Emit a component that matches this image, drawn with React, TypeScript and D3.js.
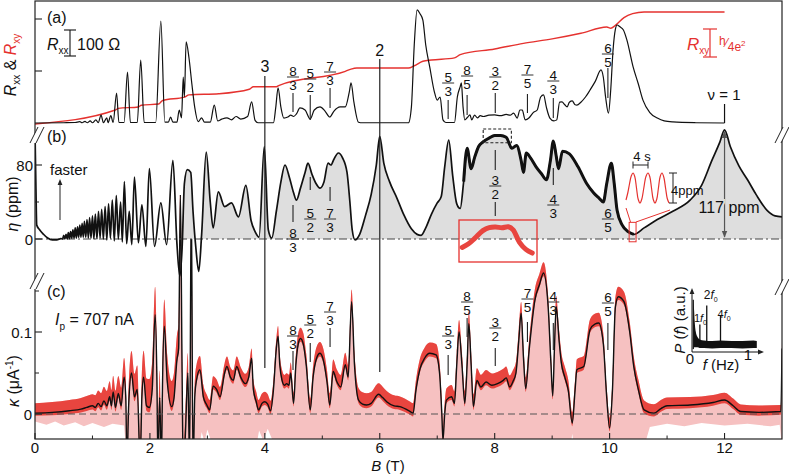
import React from "react";
import * as d3 from "d3";

type P = [number, number];

// ---------- Panel (a): Rxx (ohm) and Rxy (h/e^2) vs B (T) ----------
const rxxData: P[] = [
  [0, 0], [0.5, 1], [0.7, 2], [0.78, 5], [0.82, 1], [0.87, 6], [0.91, 1], [0.96, 8], [1.0, 1], [1.06, 12], [1.1, 1],
  [1.15, 30], [1.19, 1], [1.25, 20], [1.27, 1], [1.32, 28], [1.36, 2], [1.42, 115], [1.46, 2], [1.55, 2], [1.61, 196],
  [1.66, 2], [1.78, 2], [1.84, 242], [1.9, 2], [2.1, 2], [2.19, 392], [2.26, 3], [2.32, 3], [2.36, 23], [2.4, 3],
  [2.47, 3], [2.51, 50], [2.55, 20], [2.58, 177], [2.6, 100], [2.63, 312], [2.68, 250], [2.73, 150], [2.78, 60],
  [2.84, 5], [2.9, 20], [2.95, 3], [3.05, 3], [3.12, 69], [3.18, 8], [3.25, 15], [3.34, 20], [3.42, 12], [3.5, 25],
  [3.58, 15], [3.7, 25], [3.77, 81], [3.83, 10], [3.88, 1], [4.15, 1], [4.19, 60], [4.23, 135], [4.28, 60], [4.33, 19],
  [4.4, 23], [4.45, 30], [4.5, 25], [4.55, 35], [4.61, 58], [4.7, 50], [4.79, 15], [4.86, 50], [4.96, 62], [5.05, 45],
  [5.13, 23], [5.2, 45], [5.31, 62], [5.4, 62], [5.47, 120], [5.5, 154], [5.55, 80], [5.63, 3], [5.7, 1], [6.5, 1],
  [6.55, 60], [6.6, 300], [6.65, 435], [6.7, 420], [6.75, 396], [6.8, 300], [6.87, 215], [6.95, 120], [7.0, 88],
  [7.05, 100], [7.1, 12], [7.15, 2], [7.3, 2], [7.35, 100], [7.4, 140], [7.42, 154], [7.45, 60], [7.48, 12], [7.52, 20],
  [7.57, 31], [7.6, 12], [7.65, 30], [7.7, 20], [7.75, 28], [7.8, 25], [7.9, 30], [8.0, 31], [8.1, 28], [8.2, 33],
  [8.27, 30], [8.33, 38], [8.39, 19], [8.44, 50], [8.48, 50], [8.53, 12], [8.6, 20], [8.67, 40], [8.74, 50], [8.8, 100],
  [8.85, 108], [8.9, 60], [8.96, 19], [9.03, 8], [9.08, 12], [9.13, 80], [9.17, 81], [9.22, 70], [9.26, 62], [9.3, 80],
  [9.35, 85], [9.4, 70], [9.43, 69], [9.5, 80], [9.58, 100], [9.66, 127], [9.75, 160], [9.85, 204], [9.89, 177],
  [9.93, 100], [9.98, 38], [10.02, 130], [10.06, 281], [10.1, 360], [10.13, 377], [10.18, 370], [10.24, 358],
  [10.3, 320], [10.41, 215], [10.5, 150], [10.58, 88], [10.7, 40], [10.83, 19], [10.95, 8], [11.1, 4], [11.5, 1], [12.0, 0],
];

const rxyData: P[] = [
  [0, 0], [1.4, 0.125], [1.45, 0.14], [1.8, 0.152], [1.85, 0.168], [2.15, 0.178], [2.22, 0.21], [2.6, 0.24],
  [2.68, 0.26], [3.2, 0.27], [3.73, 0.31], [3.8, 0.333], [4.2, 0.333], [4.25, 0.345], [5.4, 0.47], [5.5, 0.49],
  [5.6, 0.5], [6.5, 0.5], [6.6, 0.52], [6.75, 0.56], [6.9, 0.571], [7.3, 0.59], [7.4, 0.62], [8.0, 0.67], [8.5, 0.72],
  [9.0, 0.76], [9.5, 0.81], [9.95, 0.866], [10.02, 0.855], [10.1, 0.88], [10.25, 0.95], [10.4, 0.985], [10.6, 1.0], [12.0, 1.0],
];

// ---------- Panel (b): eta (ppm) vs B (T) ----------
const etaData: P[] = [
  [0, 115], [0.015, 60], [0.03, 15], [0.08, 10], [0.15, 5], [0.22, 1], [0.3, -1], [0.38, -1], [0.45, 0.5],
  [0.48, 0], [0.5, 4], [0.52, 0], [0.54, 5], [0.56, 0], [0.58, 7], [0.6, 0.5], [0.62, 8], [0.64, 1], [0.66, 10],
  [0.68, 1], [0.7, 12], [0.72, 1], [0.74, 13], [0.76, 2], [0.78, 15], [0.8, 2], [0.82, 17], [0.84, 2], [0.86, 19],
  [0.883, 2], [0.905, 21], [0.928, 1], [0.95, 23], [0.975, 1], [1.0, 25], [1.025, 0], [1.05, 27], [1.078, 0],
  [1.105, 30], [1.133, 1], [1.16, 32], [1.19, 0], [1.22, 35], [1.25, -1], [1.28, 38], [1.312, 1], [1.345, 42],
  [1.38, -2], [1.415, 47], [1.45, 0], [1.49, 40], [1.52, -3], [1.555, 62], [1.595, -5], [1.64, 30], [1.685, -6],
  [1.73, 67], [1.8, -4], [1.86, 37], [1.93, -8], [1.99, 76], [2.08, -8], [2.19, 39], [2.29, -6], [2.4, 85],
  [2.47, -5], [2.52, -40], [2.56, -10], [2.6, 60], [2.65, 75], [2.71, 72], [2.75, 30], [2.8, -10], [2.85, -35],
  [2.9, 5], [2.98, 94], [3.05, 40], [3.1, 12], [3.19, 51], [3.3, 35], [3.42, 39], [3.54, 24], [3.67, 58], [3.76, 20],
  [3.83, 8], [3.9, 2], [3.99, 100], [4.06, 10], [4.12, 1], [4.2, 30], [4.28, 62], [4.35, 80], [4.43, 66], [4.5, 50],
  [4.55, 42], [4.62, 55], [4.7, 72], [4.75, 82], [4.82, 70], [4.89, 60], [4.96, 55], [5.03, 62], [5.1, 82],
  [5.15, 80], [5.2, 86], [5.28, 93], [5.35, 88], [5.43, 72], [5.48, 40], [5.52, 10], [5.57, -1], [5.65, 5],
  [5.75, 25], [5.85, 48], [5.94, 80], [6.0, 111], [6.07, 82], [6.17, 62], [6.3, 44], [6.42, 26], [6.55, 11],
  [6.65, 5], [6.72, 4], [6.8, 12], [6.9, 27], [7.0, 39], [7.07, 46], [7.13, 78], [7.2, 107], [7.27, 68], [7.34, 38],
  [7.4, 33], [7.46, 62], [7.52, 98], [7.59, 76], [7.65, 88], [7.72, 100], [7.8, 105], [7.9, 109], [8.0, 112],
  [8.1, 112], [8.2, 110], [8.3, 98], [8.38, 101], [8.46, 85], [8.5, 72], [8.55, 93], [8.62, 88], [8.72, 78],
  [8.82, 70], [8.9, 64], [8.97, 85], [9.02, 106], [9.07, 90], [9.11, 76], [9.18, 95], [9.3, 92], [9.45, 78],
  [9.6, 60], [9.72, 50], [9.82, 44], [9.89, 40], [9.95, 60], [10.03, 82], [10.08, 60], [10.13, 31], [10.22, 15],
  [10.32, 8], [10.42, 5], [10.6, 12], [10.83, 21], [11.1, 30], [11.4, 42], [11.6, 58], [11.78, 85], [11.92, 105],
  [12.0, 118], [12.1, 100], [12.25, 79], [12.4, 64], [12.55, 48], [12.74, 31], [12.88, 25], [13.0, 24],
];

// zoomed red inset of the nu = 3/2 plateau
const insetEtaData: P[] = [
  [7.82, 109.2], [7.86, 110.5], [7.9, 112.5], [7.95, 115.2], [7.99, 116.3], [8.03, 116.5], [8.07, 116.2],
  [8.11, 116.6], [8.14, 115.5], [8.18, 111], [8.22, 108.5], [8.26, 107.2],
];

// oscillation inset: time (s) vs eta (ppm)
const sineData: P[] = [
  [0, -1.6], [0.5, -0.6], [0.95, 0.6], [1.4, 1.6], [1.87, 2], [2.35, 1.5], [2.8, 0], [3.25, -1.5], [3.73, -2],
  [4.2, -1.5], [4.75, 0], [5.3, 1.5], [5.87, 2], [6.35, 1.5], [6.8, 0], [7.25, -1.5], [7.73, -2], [8.2, -1.5],
  [8.65, 0], [9.1, 1.5], [9.6, 2], [10.1, 1.4], [10.55, 0], [11.0, -1.4], [11.47, -2],
];

// ---------- Panel (c): kappa (1/uA) vs B (T) ----------
const kappaData: P[] = [
  [0, 0.001], [0.3, 0.002], [0.6, 0.004], [0.8, 0.006], [0.9, 0.008], [1.0, 0.01], [1.05, 0.008], [1.1, 0.013],
  [1.15, 0.009], [1.2, 0.016], [1.25, 0.01], [1.3, 0.021], [1.33, 0.01], [1.36, 0.027], [1.4, 0.008], [1.45, 0.025],
  [1.5, 0.01], [1.55, 0.045], [1.58, 0.02], [1.6, -0.06], [1.63, 0.01], [1.68, 0.05], [1.73, 0.021], [1.78, 0.03],
  [1.83, -0.06], [1.86, 0.02], [1.89, 0.045], [1.94, 0.01], [1.99, 0.008], [2.04, 0.03], [2.09, 0.121], [2.12, 0.05],
  [2.14, -0.06], [2.17, 0.02], [2.2, -0.06], [2.22, 0.04], [2.25, 0.107], [2.3, 0.041], [2.38, 0.009], [2.42, 0.02],
  [2.47, 0.066], [2.5, 0.08], [2.53, 0.27], [2.56, 0.05], [2.58, -0.07], [2.62, -0.02], [2.66, 0.05], [2.69, -0.06],
  [2.72, 0.27], [2.75, -0.07], [2.78, 0.02], [2.81, 0.041], [2.87, 0.054], [2.93, 0.021], [2.99, 0.011], [3.04, 0.005],
  [3.1, 0.034], [3.16, 0.03], [3.22, 0.021], [3.3, 0.05], [3.34, 0.058], [3.4, 0.045], [3.45, 0.041], [3.51, 0.058],
  [3.58, 0.045], [3.66, 0.037], [3.72, 0.045], [3.77, 0.068], [3.8, 0.03], [3.85, 0.015], [3.89, 0.005], [3.95, 0.013],
  [4.0, 0.015], [4.05, 0.012], [4.1, 0.004], [4.15, 0.03], [4.2, 0.08], [4.23, 0.095], [4.26, 0.06], [4.3, 0.041],
  [4.34, 0.035], [4.38, 0.037], [4.42, 0.035], [4.45, 0.05], [4.5, 0.013], [4.54, 0.06], [4.58, 0.085], [4.62, 0.092],
  [4.67, 0.085], [4.72, 0.06], [4.79, 0.005], [4.84, 0.045], [4.9, 0.068], [4.96, 0.074], [5.02, 0.065], [5.08, 0.04],
  [5.13, 0.011], [5.19, 0.052], [5.25, 0.04], [5.32, 0.033], [5.4, 0.06], [5.45, 0.045], [5.51, 0.137], [5.56, 0.06],
  [5.63, 0.017], [5.7, 0.012], [5.77, 0.011], [5.85, 0.013], [5.98, 0.024], [6.05, 0.02], [6.12, 0.015], [6.25, 0.01],
  [6.35, 0.009], [6.53, 0.003], [6.58, 0.001], [6.63, 0.029], [6.7, 0.055], [6.78, 0.068], [6.87, 0.074], [6.98, 0.072],
  [7.04, 0.05], [7.08, 0.0], [7.1, -0.032], [7.13, 0.0], [7.16, 0.017], [7.25, 0.021], [7.3, 0.013], [7.34, 0.06],
  [7.38, 0.1], [7.43, 0.06], [7.48, 0.013], [7.52, 0.06], [7.55, 0.11], [7.59, 0.06], [7.63, 0.009], [7.69, 0.041],
  [7.76, 0.033], [7.85, 0.039], [7.95, 0.035], [8.05, 0.037], [8.15, 0.041], [8.2, 0.044], [8.26, 0.033], [8.32, 0.04],
  [8.37, 0.05], [8.42, 0.09], [8.46, 0.123], [8.5, 0.07], [8.54, 0.031], [8.6, 0.078], [8.7, 0.139], [8.78, 0.158],
  [8.85, 0.172], [8.93, 0.131], [8.98, 0.06], [9.01, 0.022], [9.04, 0.08], [9.07, 0.131], [9.12, 0.09], [9.16, 0.062],
  [9.22, 0.045], [9.28, 0.029], [9.35, -0.011], [9.4, 0.03], [9.43, 0.054], [9.55, 0.058], [9.66, 0.103], [9.75, 0.11],
  [9.81, 0.111], [9.89, 0.086], [9.95, 0.02], [10.0, -0.017], [10.05, 0.03], [10.1, 0.13], [10.15, 0.143],
  [10.25, 0.137], [10.35, 0.1], [10.42, 0.058], [10.5, 0.03], [10.6, 0.005], [10.77, 0.001], [10.9, 0.007], [11.0, 0.01],
  [11.4, 0.011], [11.8, 0.014], [12.0, 0.017], [12.15, 0.01], [12.28, 0.003], [12.6, 0.002], [12.98, 0.003], [13.0, 0.08],
];
const kappaNoiseUpB = [0, 1, 1.5, 2, 2.5, 3, 4, 5.5, 6.5, 7.5, 9, 10.5, 11, 13];
const kappaNoiseUp = [0.012, 0.014, 0.022, 0.035, 0.03, 0.012, 0.012, 0.015, 0.012, 0.015, 0.013, 0.012, 0.01, 0.008];
const kappaNoiseDownB = [0, 2, 3, 13];
const kappaNoiseDown = [0.003, 0.006, 0.004, 0.004];
const pinkLowData: P[] = [
  [0, -0.009], [0.2, -0.013], [0.35, -0.009], [0.5, -0.014], [0.7, -0.01], [0.85, -0.015], [1.0, -0.011],
  [1.2, -0.016], [1.35, -0.012], [1.55, -0.014], [1.58, -0.04], [2.86, -0.04], [2.9, -0.022], [2.95, -0.034],
  [3.0, -0.019], [3.05, -0.03], [3.1, -0.04], [3.85, -0.04], [3.9, -0.02], [3.97, -0.032], [4.05, -0.018],
  [4.12, -0.03], [4.2, -0.04], [9.32, -0.04], [9.35, -0.024], [9.38, -0.04], [10.6, -0.04], [10.7, -0.016],
  [11.0, -0.012], [11.3, -0.015], [11.6, -0.011], [12.0, -0.014], [12.4, -0.012], [12.8, -0.015], [12.96, -0.013], [13, -0.04],
];

// power spectrum inset (f in Hz, P in a.u.)
const specF = [0.005, 0.02, 0.03, 0.05, 0.08, 0.12, 0.2, 0.35, 0.5, 0.7, 0.9, 1.1, 1.16];
const specUpper = [0.95, 0.75, 0.55, 0.35, 0.25, 0.2, 0.18, 0.17, 0.18, 0.17, 0.17, 0.18, 0.17];
const specLower = [0.0, 0.05, 0.05, 0.05, 0.05, 0.04, 0.04, 0.03, 0.04, 0.04, 0.03, 0.04, 0.04];
const specPeakF = [0.125, 0.25, 0.5];
const specPeakP = [0.48, 0.84, 0.65];
const specPeakName = ["1", "2", "4"];

// filling-factor labels
const fracNum = ["8", "5", "7", "5", "8", "3", "7", "4", "6"];
const fracDen = ["3", "2", "3", "3", "5", "2", "5", "3", "5"];
const fracB = [4.49, 4.79, 5.135, 7.19, 7.52, 8.01, 8.57, 9.02, 9.97];
const integerNu = ["3", "2"];
const integerB = [4, 6];

const xTicks = [0, 2, 4, 6, 8, 10, 12];
const xMinor = [1, 3, 5, 7, 9, 11];
const rxxTicks = [200, 400];
const etaTicks = [0, 80];
const etaMinor = [40];
const kappaTicks = [0, 0.1];
const kappaMinor = [0.05, 0.15];

// ---------- layout (pixels) ----------
const FONT = "'Liberation Sans', Arial, Helvetica, sans-serif";
const L = 35, R = 782, TOP = 1, BOT = 439;
const barA = [77, 79, 72, 83, 76, 77, 75, 81, 54];
const tickA: (number[] | null)[] = [[93, 112], [95, 120], [88, 108], [100, 119], [95, 115], [93, 113], [94, 113], [98, 118], [68, 98]];
const barB: (number | null)[] = [239, 219, 219, null, null, 186, null, 205, 219];
const tickB: number[][][] = [[[205, 222]], [[177, 190]], [[187, 201]], [], [], [[150, 170], [202, 216]], [], [[168, 185]], []];
const barC = [336, 325, 312, 336, 302, 328, 299, 302, 303];
const tickC = [[351, 370], [343, 362], [328, 347], [355, 375], [318, 337], [348, 366], [322, 342], [323, 350], [323, 350]];
const intLabelY = [72, 56];
const intLineY = [[76, 368], [59, 372]];
const specLabelDx = [-6, -3, -3];
const specLabelY = [322, 299, 318];

const Frac = ({ cx, bar, n, d }: { cx: number; bar: number; n: string; d: string }) => (
  <g>
    <text x={cx} y={bar - 1.5} fontSize={13.5} textAnchor="middle" fill="#111">{n}</text>
    <line x1={cx - 6} x2={cx + 6} y1={bar} y2={bar} stroke="#333" strokeWidth={1} />
    <text x={cx} y={bar + 13.3} fontSize={13.5} textAnchor="middle" fill="#111">{d}</text>
  </g>
);

const BreakMark = ({ cx, cy }: { cx: number; cy: number }) => (
  <g>
    <polygon points={`${cx - 7},${cy + 8} ${cx + 1},${cy - 8} ${cx + 7},${cy - 8} ${cx - 1},${cy + 8}`} fill="#fff" />
    <line x1={cx - 7} y1={cy + 8} x2={cx + 1} y2={cy - 8} stroke="#222" strokeWidth={1} />
    <line x1={cx - 1} y1={cy + 8} x2={cx + 7} y2={cy - 8} stroke="#222" strokeWidth={1} />
  </g>
);

export default function App() {
  const x = d3.scaleLinear().domain([0, 13]).range([L, R]);
  const yA = d3.scaleLinear().domain([0, 100]).range([123, 97]);
  const yH = d3.scaleLinear().domain([0, 1]).range([124, 12]);
  const yB = d3.scaleLinear().domain([0, 80]).range([239, 165]);
  const yC = d3.scaleLinear().domain([0, 0.1]).range([414, 332]);
  const mono = d3.curveMonotoneX;

  const rxxPath = d3.line<P>().x(d => x(d[0])).y(d => yA(d[1])).curve(mono)(rxxData) || "";
  const rxyPath = d3.line<P>().x(d => x(d[0])).y(d => yH(d[1])).curve(mono)(rxyData) || "";

  const etaLine = d3.line<P>().x(d => x(d[0])).y(d => yB(d[1])).curve(mono);
  const etaPath = etaLine(etaData) || "";
  const etaThick = etaLine(etaData.filter(d => d[0] >= 7.45 && d[0] <= 10.5)) || "";
  const etaFill = d3.area<P>().x(d => x(d[0])).y0(yB(0)).y1(d => yB(Math.max(0, d[1]))).curve(mono)(
    etaData.filter(d => d[0] >= 2.55)
  ) || "";

  const up = d3.scaleLinear().domain(kappaNoiseUpB).range(kappaNoiseUp);
  const dn = d3.scaleLinear().domain(kappaNoiseDownB).range(kappaNoiseDown);
  const kLine = d3.line<P>().x(d => x(d[0])).y(d => yC(d[1])).curve(mono)(kappaData) || "";
  const kBand = d3.area<P>().x(d => x(d[0])).y0(d => yC(d[1] - dn(d[0]))).y1(d => yC(d[1] + up(d[0]))).curve(mono)(kappaData) || "";
  const pink1 = d3.area<P>().x(d => x(d[0])).y0(yC(0)).y1(d => yC(d[1] + up(d[0]))).curve(mono)(kappaData) || "";
  const pink2 = d3.area<P>().x(d => x(d[0])).y0(yC(0)).y1(d => yC(d[1]))(pinkLowData) || "";

  // red inset box (zoom of dashed box)
  const ix = d3.scaleLinear().domain([7.8, 8.29]).range([459, 537]);
  const iy = d3.scaleLinear().domain([104, 119]).range([262, 220]);
  const insetPath = d3.line<P>().x(d => ix(d[0])).y(d => iy(d[1])).curve(d3.curveCatmullRom)(insetEtaData) || "";

  // sine inset
  const sx = d3.scaleLinear().domain([0, 12]).range([626, 671]);
  const sy = d3.scaleLinear().domain([-2, 2]).range([203, 173]);
  const sinePath = d3.line<P>().x(d => sx(d[0])).y(d => sy(d[1])).curve(d3.curveCatmullRom)(sineData) || "";

  // spectrum inset
  const fx = d3.scaleLinear().domain([0, 1]).range([693, 748]);
  const py = d3.scaleLinear().domain([0, 1]).range([350, 297]);
  const specIdx = specF.map((_, i) => i);
  const specBand = d3.area<number>().x(i => fx(specF[i])).y0(i => py(specLower[i])).y1(i => py(specUpper[i])).curve(d3.curveMonotoneX)(specIdx) || "";

  const red = "#e5322f";
  const bandRed = "#e8453f";
  const pink = "#f6c1c1";
  const gray = "#dedede";

  return (
    <svg width={789} height={476} style={{ position: "absolute", left: 0, top: 0, background: "#fff" }} fontFamily={FONT}>
      <defs>
        <clipPath id="clipA"><rect x={L} y={TOP} width={R - L} height={126} /></clipPath>
        <clipPath id="clipB"><rect x={L} y={122} width={R - L} height={180} /></clipPath>
        <clipPath id="clipC"><rect x={L} y={195} width={R - L} height={BOT - 195} /></clipPath>
        <marker id="arrowBlack" viewBox="0 0 10 10" refX="5" refY="5" markerWidth="6" markerHeight="6" orient="auto-start-reverse">
          <path d="M0,1 L10,5 L0,9 z" fill="#222" />
        </marker>
        <marker id="arrowGray" viewBox="0 0 10 10" refX="9" refY="5" markerWidth="6" markerHeight="6" orient="auto-start-reverse">
          <path d="M0,1 L10,5 L0,9 z" fill="#555" />
        </marker>
      </defs>

      {/* ---------- panel (c) ---------- */}
      <g clipPath="url(#clipC)">
        <path d={pink1} fill={pink} />
        <path d={pink2} fill={pink} />
        <path d={kBand} fill={bandRed} />
        <path d={kLine} fill="none" stroke="#111" strokeWidth={1.4} />
      </g>
      <line x1={L} x2={R} y1={yC(0)} y2={yC(0)} stroke="#555" strokeWidth={1.2} strokeDasharray="7 4" />

      {/* ---------- panel (b) ---------- */}
      <g clipPath="url(#clipB)">
        <path d={etaFill} fill={gray} />
        <line x1={L} x2={R} y1={yB(0)} y2={yB(0)} stroke="#444" strokeWidth={1.2} strokeDasharray="8 3 2 3" />
        <path d={etaPath} fill="none" stroke="#111" strokeWidth={1.7} strokeLinejoin="round" />
        <path d={etaThick} fill="none" stroke="#111" strokeWidth={3} strokeLinejoin="round" />
      </g>
      {/* dashed box and red zoom inset */}
      <rect x={x(7.8)} y={yB(119)} width={x(8.29) - x(7.8)} height={yB(104) - yB(119)} fill="none" stroke="#222" strokeWidth={1.1} strokeDasharray="3 2" />
      <rect x={459} y={220} width={78} height={42} fill="none" stroke={red} strokeWidth={1.3} />
      <path d={insetPath} fill="none" stroke={bandRed} strokeWidth={5} strokeLinecap="round" />
      {/* oscillation inset */}
      <rect x={x(10.34)} y={yB(18)} width={x(10.46) - x(10.34)} height={yB(-3) - yB(18)} fill="none" stroke={red} strokeWidth={1} />
      <line x1={626} y1={208} x2={630.5} y2={222} stroke={red} strokeWidth={1} />
      <line x1={636} y1={222} x2={670} y2={210} stroke={red} strokeWidth={1} />
      <path d={sinePath} fill="none" stroke={red} strokeWidth={1.2} />
      <g stroke="#222" strokeWidth={1}>
        <line x1={sx(1.87)} x2={sx(5.87)} y1={165} y2={165} />
        <line x1={sx(1.87)} x2={sx(1.87)} y1={161.5} y2={168.5} />
        <line x1={sx(5.87)} x2={sx(5.87)} y1={161.5} y2={168.5} />
        <line x1={673} x2={673} y1={sy(2)} y2={sy(-2)} />
        <line x1={669} x2={677} y1={sy(2)} y2={sy(2)} />
        <line x1={669} x2={677} y1={sy(-2)} y2={sy(-2)} />
      </g>
      <text x={642} y={161} fontSize={13} textAnchor="middle" fill="#111">4 s</text>
      <text x={671} y={195} fontSize={13} fill="#111">4ppm</text>

      {/* 117 ppm arrow */}
      <line x1={x(12)} x2={x(12)} y1={yB(117) + 1} y2={yB(0) - 2} stroke="#555" strokeWidth={1.2} markerStart="url(#arrowGray)" markerEnd="url(#arrowGray)" />
      <text x={729} y={213} fontSize={16} textAnchor="middle" fill="#111" stroke={gray} strokeWidth={4} paintOrder="stroke">117 ppm</text>

      {/* faster arrow */}
      <line x1={60} x2={60} y1={220} y2={182} stroke="#222" strokeWidth={1} markerEnd="url(#arrowBlack)" />
      <text x={50} y={175} fontSize={15} fill="#111">faster</text>

      {/* ---------- panel (a) ---------- */}
      <g clipPath="url(#clipA)">
        <path d={rxyPath} fill="none" stroke={red} strokeWidth={1.4} />
        <path d={rxxPath} fill="none" stroke="#111" strokeWidth={1.2} strokeLinejoin="round" />
      </g>
      <line x1={x(12)} x2={x(12)} y1={104} y2={yA(0)} stroke="#111" strokeWidth={1.2} />
      <text x={724} y={100} fontSize={15} textAnchor="middle" fill="#111">ν = 1</text>

      {/* scale bars */}
      <line x1={70} x2={70} y1={30} y2={56} stroke="#111" strokeWidth={1.1} />
      <line x1={64} x2={76} y1={30} y2={30} stroke="#111" strokeWidth={1.1} />
      <line x1={64} x2={76} y1={56} y2={56} stroke="#111" strokeWidth={1.1} />
      <text x={47} y={50} fontSize={16} fill="#111">
        <tspan fontStyle="italic">R</tspan>
        <tspan fontSize={10} dy={4}>xx</tspan>
      </text>
      <text x={77} y={50} fontSize={16} fill="#111">100 Ω</text>

      <line x1={710} x2={710} y1={29} y2={57} stroke={red} strokeWidth={1.2} />
      <line x1={703} x2={717} y1={29} y2={29} stroke={red} strokeWidth={1.2} />
      <line x1={703} x2={717} y1={57} y2={57} stroke={red} strokeWidth={1.2} />
      <text x={687} y={50} fontSize={17} fill={red}>
        <tspan fontStyle="italic">R</tspan>
        <tspan fontSize={10} dy={4}>xy</tspan>
      </text>
      <text x={719} y={48} fontSize={12} fill={red}>
        <tspan dy={-3}>h</tspan>
        <tspan dy={2}>⁄</tspan>
        <tspan dy={4}>4e</tspan>
        <tspan fontSize={8} dy={-5}>2</tspan>
      </text>

      {/* integer filling factor lines */}
      {integerB.map((b, i) => (
        <g key={"int" + i}>
          <line x1={x(b)} x2={x(b)} y1={intLineY[i][0]} y2={intLineY[i][1]} stroke="#222" strokeWidth={1.2} />
          <text x={x(b)} y={intLabelY[i]} fontSize={16} textAnchor="middle" fill="#111">{integerNu[i]}</text>
        </g>
      ))}

      {/* fractional filling factors */}
      {fracB.map((b, i) => (
        <g key={"fa" + i}>
          <Frac cx={x(b)} bar={barA[i]} n={fracNum[i]} d={fracDen[i]} />
          {tickA[i] && <line x1={x(b)} x2={x(b)} y1={tickA[i]![0]} y2={tickA[i]![1]} stroke="#222" strokeWidth={1.1} />}
          {barB[i] !== null && <Frac cx={x(b)} bar={barB[i] as number} n={fracNum[i]} d={fracDen[i]} />}
          {tickB[i].map((t, j) => (
            <line key={j} x1={x(b)} x2={x(b)} y1={t[0]} y2={t[1]} stroke="#222" strokeWidth={1.1} />
          ))}
          <Frac cx={x(b)} bar={barC[i]} n={fracNum[i]} d={fracDen[i]} />
          <line x1={x(b)} x2={x(b)} y1={tickC[i][0]} y2={tickC[i][1]} stroke="#222" strokeWidth={1.1} />
        </g>
      ))}

      {/* spectrum inset */}
      <path d={specBand} fill="#111" />
      <line x1={fx(0.005)} x2={fx(0.005)} y1={py(0.02)} y2={py(0.95)} stroke="#111" strokeWidth={1.2} />
      {specPeakF.map((f, i) => (
        <line key={"sp" + i} x1={fx(f)} x2={fx(f)} y1={py(0.1)} y2={py(specPeakP[i])} stroke="#111" strokeWidth={1.3} />
      ))}
      <line x1={692} x2={692} y1={352} y2={291} stroke="#111" strokeWidth={1} markerEnd="url(#arrowBlack)" />
      <line x1={692} x2={761} y1={352} y2={352} stroke="#111" strokeWidth={1} markerEnd="url(#arrowBlack)" />
      {specPeakF.map((f, i) => (
        <text key={"spl" + i} x={fx(f) + specLabelDx[i]} y={specLabelY[i]} fontSize={i === 1 ? 12 : 11} fill="#111">
          {specPeakName[i]}
          <tspan fontStyle="italic">f</tspan>
          <tspan fontSize={7} dy={3}>0</tspan>
        </text>
      ))}
      <text x={690} y={364} fontSize={15} textAnchor="middle" fill="#111">0</text>
      <text x={748} y={360} fontSize={15} textAnchor="middle" fill="#111">1</text>
      <text x={721} y={370} fontSize={15} textAnchor="middle" fill="#111">
        <tspan fontStyle="italic">f</tspan> (Hz)
      </text>
      <text transform="translate(685,320) rotate(-90)" fontSize={15} textAnchor="middle" fill="#111">
        <tspan fontStyle="italic">P</tspan> (<tspan fontStyle="italic">f</tspan>) (a.u.)
      </text>

      {/* ---------- frame, axes ---------- */}
      <rect x={L} y={TOP} width={R - L} height={BOT - TOP} fill="none" stroke="#222" strokeWidth={1.2} />
      {xTicks.map(t => (
        <g key={"xt" + t}>
          <line x1={x(t)} x2={x(t)} y1={BOT} y2={BOT - 6} stroke="#222" strokeWidth={1.1} />
          <text x={x(t)} y={453} fontSize={15} textAnchor="middle" fill="#111">{t}</text>
        </g>
      ))}
      {xMinor.map(t => (
        <line key={"xm" + t} x1={x(t)} x2={x(t)} y1={BOT} y2={BOT - 3.5} stroke="#222" strokeWidth={1} />
      ))}
      <text x={388} y={471} fontSize={15} textAnchor="middle" fill="#111">
        <tspan fontStyle="italic">B</tspan> (T)
      </text>

      {rxxTicks.map(t => (
        <line key={"ra" + t} x1={L} x2={L + 7} y1={yA(t)} y2={yA(t)} stroke="#222" strokeWidth={1.1} />
      ))}
      {etaTicks.map(t => (
        <g key={"et" + t}>
          <line x1={L} x2={L + 7} y1={yB(t)} y2={yB(t)} stroke="#222" strokeWidth={1.1} />
          <text x={33} y={yB(t) + 5.5} fontSize={15} textAnchor="end" fill="#111">{t}</text>
        </g>
      ))}
      {etaMinor.map(t => (
        <line key={"em" + t} x1={L} x2={L + 4} y1={yB(t)} y2={yB(t)} stroke="#222" strokeWidth={1} />
      ))}
      {kappaTicks.map(t => (
        <g key={"kt" + t}>
          <line x1={L} x2={L + 7} y1={yC(t)} y2={yC(t)} stroke="#222" strokeWidth={1.1} />
          <text x={32} y={yC(t) + 5.5} fontSize={15} textAnchor="end" fill="#111">{t}</text>
        </g>
      ))}
      {kappaMinor.map(t => (
        <line key={"km" + t} x1={L} x2={L + 4} y1={yC(t)} y2={yC(t)} stroke="#222" strokeWidth={1} />
      ))}

      <BreakMark cx={37} cy={135} />
      <BreakMark cx={37} cy={281} />
      <BreakMark cx={R} cy={135} />
      <BreakMark cx={R} cy={287} />

      {/* panel letters and labels */}
      <text x={47} y={23} fontSize={16} fill="#111">(a)</text>
      <text x={47} y={142} fontSize={16} fill="#111">(b)</text>
      <text x={47} y={297} fontSize={16} fill="#111">(c)</text>
      <text x={55} y={325} fontSize={16} fill="#111">
        <tspan fontStyle="italic">I</tspan>
        <tspan fontSize={10} dy={5}>p</tspan>
        <tspan dy={-5}> = 707 nA</tspan>
      </text>

      <text transform="translate(16,65) rotate(-90)" fontSize={16} textAnchor="middle" fill="#111">
        <tspan fontStyle="italic">R</tspan>
        <tspan fontSize={10} dy={4}>xx</tspan>
        <tspan dy={-4}> &amp; </tspan>
        <tspan fontStyle="italic" fill={red}>R</tspan>
        <tspan fontSize={10} dy={4} fill={red}>xy</tspan>
      </text>
      <text transform="translate(18,204) rotate(-90)" fontSize={16} textAnchor="middle" fill="#111">
        <tspan fontStyle="italic">η</tspan> (ppm)
      </text>
      <text transform="translate(19,381) rotate(-90)" fontSize={16} textAnchor="middle" fill="#111">
        <tspan fontStyle="italic">κ</tspan> (μA<tspan fontSize={10} dy={-6}>-1</tspan><tspan dy={6}>)</tspan>
      </text>
    </svg>
  );
}
